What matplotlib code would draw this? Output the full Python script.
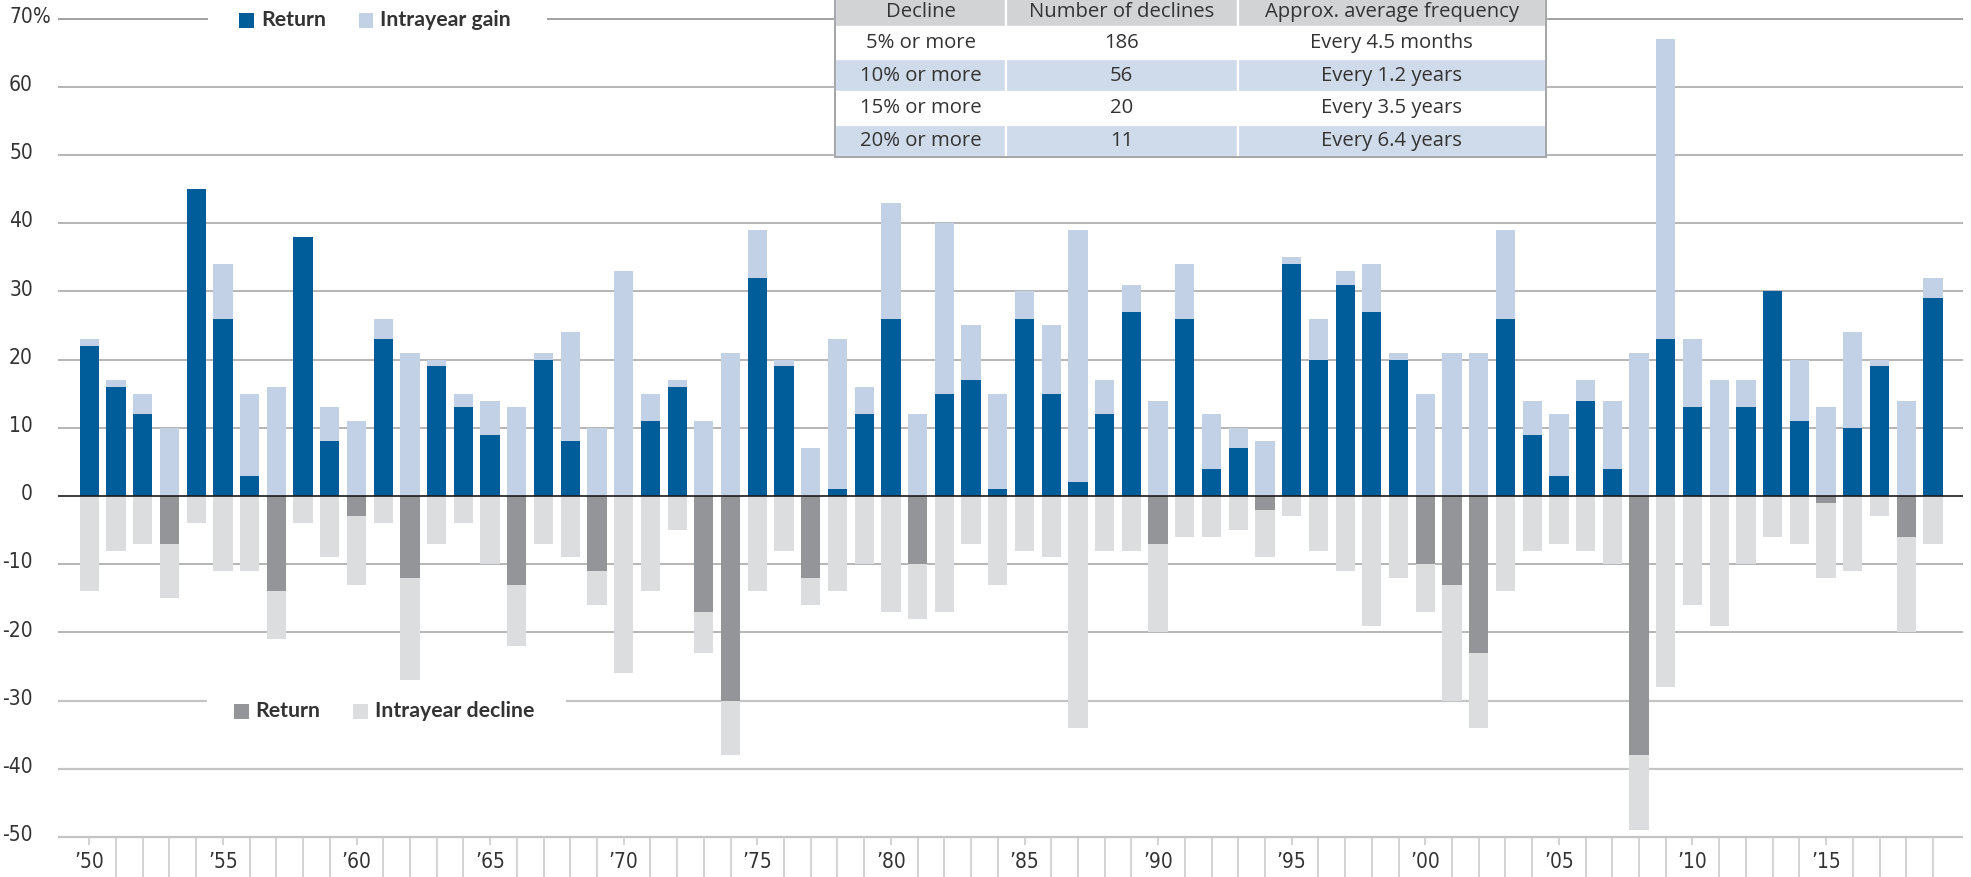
import matplotlib
matplotlib.use("Agg")
import matplotlib.pyplot as plt
from matplotlib import font_manager
from matplotlib.patches import Rectangle
import numpy as np

# ---------------- data ----------------
years = list(range(1950, 2020))
returns = [22, 16, 12, -7, 45, 26, 3, -14, 38, 8,
           -3, 23, -12, 19, 13, 9, -13, 20, 8, -11,
           0, 11, 16, -17, -30, 32, 19, -12, 1, 12,
           26, -10, 15, 17, 1, 26, 15, 2, 12, 27,
           -7, 26, 4, 7, -2, 34, 20, 31, 27, 20,
           -10, -13, -23, 26, 9, 3, 14, 4, -38, 23,
           13, 0, 13, 30, 11, -1, 10, 19, -6, 29]
intrayear_gain = [23, 17, 15, 10, 45, 34, 15, 16, 38, 13,
                  11, 26, 21, 20, 15, 14, 13, 21, 24, 10,
                  33, 15, 17, 11, 21, 39, 20, 7, 23, 16,
                  43, 12, 40, 25, 15, 30, 25, 39, 17, 31,
                  14, 34, 12, 10, 8, 35, 26, 33, 34, 21,
                  15, 21, 21, 39, 14, 12, 17, 14, 21, 67,
                  23, 17, 17, 30, 20, 13, 24, 20, 14, 32]
intrayear_decline = [-14, -8, -7, -15, -4, -11, -11, -21, -4, -9,
                     -13, -4, -27, -7, -4, -10, -22, -7, -9, -16,
                     -26, -14, -5, -23, -38, -14, -8, -16, -14, -10,
                     -17, -18, -17, -7, -13, -8, -9, -34, -8, -8,
                     -20, -6, -6, -5, -9, -3, -8, -11, -19, -12,
                     -17, -30, -34, -14, -8, -7, -8, -10, -49, -28,
                     -16, -19, -10, -6, -7, -12, -11, -3, -20, -7]
y_ticks = [70, 60, 50, 40, 30, 20, 10, 0, -10, -20, -30, -40, -50]

table_header = ["Decline", "Number of declines", "Approx. average frequency"]
decline_level = ["5% or more", "10% or more", "15% or more", "20% or more"]
number_of_declines = ["186", "56", "20", "11"]
avg_frequency = ["Every 4.5 months", "Every 1.2 years", "Every 3.5 years", "Every 6.4 years"]

# ---------------- style ----------------
DARK_BLUE = "#005d9a"
LIGHT_BLUE = "#c2d1e6"
DARK_GREY = "#949599"
LIGHT_GREY = "#dcdddf"
GRID = "#a2a2a2"
GRID_LIGHT = "#c4c4c4"
TEXT = "#333333"
TBL_HEAD = "#d2d3d5"
TBL_BLUE = "#cfdbea"
TBL_BORDER = "#a4a5a8"

avail = {f.name for f in font_manager.fontManager.ttflist}
if "Liberation Sans Narrow" in avail:
    COND = dict(family=["Liberation Sans Narrow", "DejaVu Sans"])
else:
    COND = dict(family=["DejaVu Sans"], stretch="condensed")
LEG_FAMILY = ["Lato", "DejaVu Sans"] if "Lato" in avail else ["DejaVu Sans"]
TBL_FAMILY = ["Open Sans", "DejaVu Sans"] if "Open Sans" in avail else LEG_FAMILY

W, H = 1971, 877
fig = plt.figure(figsize=(W / 100, H / 100), dpi=100)
ax = fig.add_axes([0, 0, 1, 1])

# pixel -> data helpers (layout only)
PX0, PXS = 89.3, 26.72
PY0, PYS = 496.0, 6.82
def xd(px):
    return (px - PX0) / PXS
def yd(py):
    return (PY0 - py) / PYS

ax.set_xlim(xd(0), xd(W))
ax.set_ylim(yd(H), yd(0))
ax.axis("off")

x = np.arange(len(years))
r = np.array(returns, dtype=float)
g = np.array(intrayear_gain, dtype=float)
d = np.array(intrayear_decline, dtype=float)
bw = 0.72

GL, GR = xd(58), xd(1963)

# gridlines
for v in y_ticks:
    if v in (70, -30, 0):
        continue
    col = GRID_LIGHT if v <= -30 else GRID
    lw = 1.6 if v <= -30 else 1.1
    ax.hlines(v, GL, GR, color=col, lw=lw, zorder=1)
for a, b in [(58, 207.6), (547, 835), (1546, 1963)]:
    ax.hlines(70, xd(a), xd(b), color=GRID, lw=1.4, zorder=1)
for a, b in [(58, 206.7), (566, 1963)]:
    ax.hlines(-30, xd(a), xd(b), color=GRID_LIGHT, lw=1.6, zorder=1)

# bars
ax.bar(x, g, width=bw, color=LIGHT_BLUE, zorder=2, linewidth=0)
ax.bar(x, np.where(r > 0, r, 0), width=bw, color=DARK_BLUE, zorder=3, linewidth=0)
ax.bar(x, d, width=bw, color=LIGHT_GREY, zorder=2, linewidth=0)
ax.bar(x, np.where(r < 0, r, 0), width=bw, color=DARK_GREY, zorder=3, linewidth=0)

# zero line
ax.hlines(0, GL, GR, color="#1a1a1a", lw=1.2, zorder=4)

# x ticks and labels
for i, yr in enumerate(years):
    labeled = yr % 5 == 0
    bottom = yd(845) if labeled else yd(H)
    ax.vlines(i, -50, bottom, color="#c8c8c8", lw=1.1, zorder=1)
    if labeled:
        ax.text(i, yd(862), "\u2019" + str(yr)[2:], ha="center", va="center",
                fontsize=15, color=TEXT, **COND)

# y tick labels
for v in y_ticks:
    yy = v + 0.25
    if v == 70:
        ax.text(xd(33), yy, "70", ha="right", va="center", fontsize=15, color=TEXT, **COND)
        ax.text(xd(33), yy, "%", ha="left", va="center", fontsize=15, color=TEXT, **COND)
    else:
        ax.text(xd(33), yy, str(v), ha="right", va="center", fontsize=15, color=TEXT, **COND)

# legends
def legend_item(px_l, px_r, py_t, py_b, color, label, text_px):
    ax.add_patch(Rectangle((xd(px_l), yd(py_b)), (px_r - px_l) / PXS, (py_b - py_t) / PYS,
                           facecolor=color, edgecolor="none", zorder=5))
    ax.text(xd(text_px), yd((py_t + py_b) / 2), label, ha="left", va="center",
            fontsize=15.3, fontweight="bold", color=TEXT, family=LEG_FAMILY, zorder=5)

legend_item(239, 253.6, 13.3, 27.7, DARK_BLUE, "Return", 261)
legend_item(358.5, 373, 13.3, 27.7, LIGHT_BLUE, "Intrayear gain", 379.5)
legend_item(233.5, 248.7, 704, 718.7, DARK_GREY, "Return", 255)
legend_item(352.7, 368.3, 704, 718.7, LIGHT_GREY, "Intrayear decline", 375)

# table
col_edges = [835, 1006, 1237.5, 1546]
row_edges = [-10, 26.7, 59.3, 92, 125, 157.3]
rows = [table_header] + [[a, b, c] for a, b, c in zip(decline_level, number_of_declines, avg_frequency)]
for ri in range(len(rows)):
    t, b = row_edges[ri], row_edges[ri + 1]
    if ri == 0:
        fc = TBL_HEAD
    elif ri % 2 == 0:
        fc = TBL_BLUE
    else:
        fc = "white"
    for ci in range(3):
        l, rr = col_edges[ci], col_edges[ci + 1]
        ax.add_patch(Rectangle((xd(l), yd(b)), (rr - l) / PXS, (b - t) / PYS,
                               facecolor=fc, edgecolor="white", lw=1.6, zorder=6))
        cy = 12.3 if ri == 0 else (t + b) / 2
        ax.text(xd((l + rr) / 2), yd(cy), rows[ri][ci], ha="center", va="center",
                fontsize=14.6, color=TEXT, family=TBL_FAMILY, zorder=7)
# table border (left, bottom, right)
ax.plot([xd(835), xd(835), xd(1546), xd(1546)], [yd(-10), yd(157.3), yd(157.3), yd(-10)],
        color=TBL_BORDER, lw=1.4, zorder=8, solid_joinstyle="miter")

fig.savefig("out.png", dpi=100)
